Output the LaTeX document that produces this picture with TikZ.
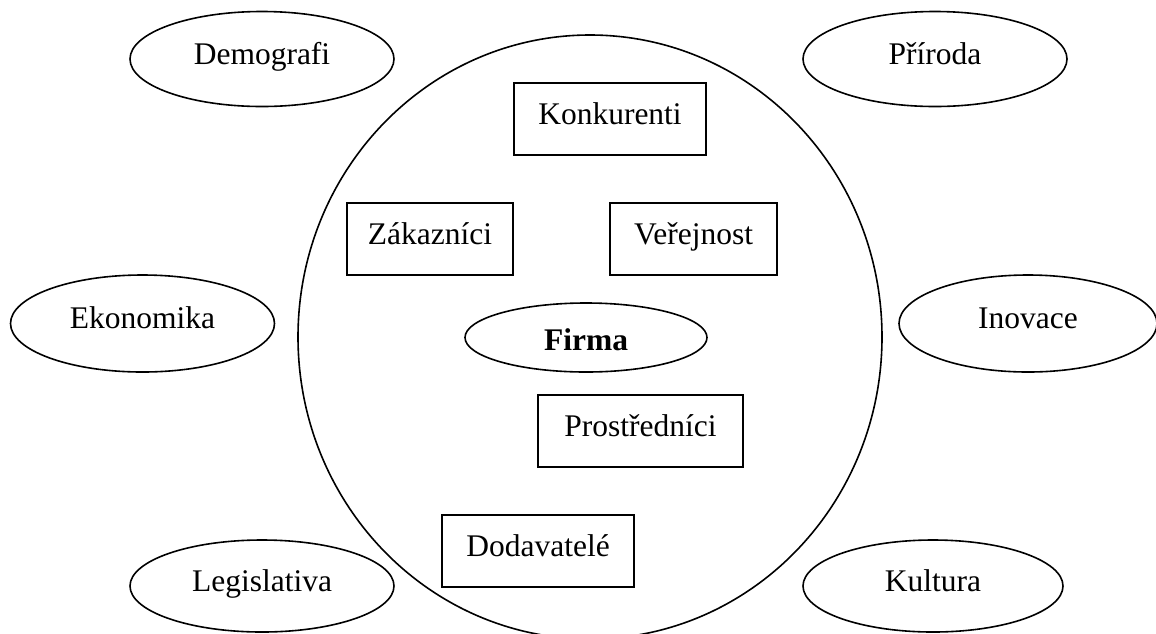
\documentclass[tikz,border=0pt]{standalone}
\usepackage{fontspec}
\setmainfont{Liberation Serif}
\usetikzlibrary{shapes.geometric}

\begin{document}
\begin{tikzpicture}[x=1pt,y=-1pt,
  every node/.style={font=\fontsize{31.5}{38}\selectfont},
  vliv/.style={ellipse,draw,line width=1.6pt,minimum width=264pt,minimum height=95pt,inner sep=0pt,text height=21pt,text depth=11pt},
  subjekt/.style={rectangle,draw,line width=1.6pt,minimum height=72pt,inner sep=0pt,text height=21pt,text depth=11pt}]
\useasboundingbox (0,0) rectangle (1156,633);
\node [ellipse,draw,line width=1.6pt,minimum width=584pt,minimum height=604pt,inner sep=0pt] (okoli) at (590,337) {};
\node [vliv] (demografi) at (262,59) {Demografi};
\node [vliv] (priroda) at (935,59) {Příroda};
\node [vliv,minimum height=97pt] (ekonomika) at (142.5,323.5) {Ekonomika};
\node [vliv,minimum width=258pt,minimum height=97pt] (inovace) at (1028,323.5) {Inovace};
\node [vliv,minimum height=92pt] (legislativa) at (262,586) {Legislativa};
\node [vliv,minimum width=260pt,minimum height=92pt] (kultura) at (933,586) {Kultura};
\node [ellipse,draw,line width=1.6pt,minimum width=242pt,minimum height=69pt,inner sep=0pt,font=\fontsize{31.5}{38}\selectfont\bfseries,text height=30pt,text depth=5pt] (firma) at (586,337.5) {Firma};
\node [subjekt,minimum width=192pt] (konkurenti) at (610,119) {Konkurenti};
\node [subjekt,minimum width=166pt] (zakaznici) at (430,239) {Zákazníci};
\node [subjekt,minimum width=167pt] (verejnost) at (693.5,239) {Veřejnost};
\node [subjekt,minimum width=205pt] (prostrednici) at (640.5,431) {Prostředníci};
\node [subjekt,minimum width=192pt] (dodavatele) at (538,551) {Dodavatelé};
\end{tikzpicture}
\end{document}
